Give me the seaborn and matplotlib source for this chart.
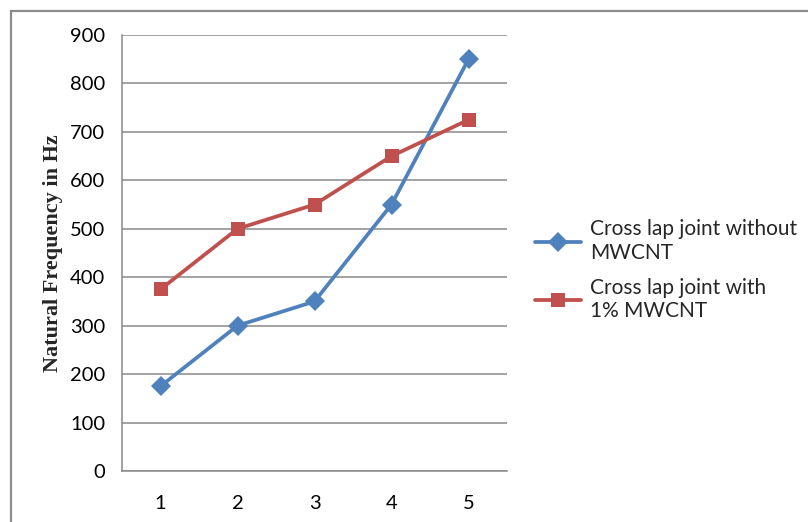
import matplotlib
matplotlib.use("Agg")
import matplotlib.pyplot as plt
import seaborn as sns
import pandas as pd
from matplotlib.patches import Rectangle

# Natural frequency of cross lap joints for each specimen
specimens = [1, 2, 3, 4, 5]
freq_without = [175, 300, 350, 550, 850]
freq_with = [375, 500, 550, 650, 725]
label_without = "Cross lap joint without\nMWCNT"
label_with = "Cross lap joint with\n1% MWCNT"
y_ticks = [0, 100, 200, 300, 400, 500, 600, 700, 800, 900]

df = pd.DataFrame({
    "Specimen": specimens * 2,
    "Frequency": freq_without + freq_with,
    "Series": [label_without] * len(specimens) + [label_with] * len(specimens),
})

sns.set_theme(style="white")
plt.rcParams["font.family"] = ["Lato", "DejaVu Sans"]

fig = plt.figure(figsize=(8.08, 5.22), dpi=100)
ax = fig.add_axes([122 / 808, 1 - 471 / 522, (507 - 122) / 808, (471 - 35) / 522])

palette = {label_without: "#4F81BD", label_with: "#C0504D"}
markers = {label_without: "D", label_with: "s"}
sns.lineplot(data=df, x="Specimen", y="Frequency", hue="Series", style="Series",
             palette=palette, markers=markers, dashes=False, markersize=10.5,
             linewidth=2.7, markeredgewidth=0, ax=ax, legend=True)

ax.set_xlim(0.5, 5.5)
ax.set_ylim(0, 900)
ax.set_yticks(y_ticks)
ax.set_xticks(specimens)
ax.yaxis.grid(True, color="#898989", linewidth=1.1)
ax.xaxis.grid(False)
for side in ["top", "right"]:
    ax.spines[side].set_visible(False)
for side in ["left", "bottom"]:
    ax.spines[side].set_color("#898989")
    ax.spines[side].set_linewidth(1.1)
ax.tick_params(axis="both", length=0, labelsize=14.5, colors="black")
ax.tick_params(axis="y", pad=12)
ax.tick_params(axis="x", pad=17)
ax.set_xlabel("")
ax.set_ylabel("Natural Frequency in Hz", fontsize=16, fontweight="bold",
              family="Liberation Serif", labelpad=5)

handles, labels = ax.get_legend_handles_labels()
ax.legend(handles, labels, loc="center left", bbox_to_anchor=(516 / 808, 1 - 270 / 522),
          bbox_transform=fig.transFigure, frameon=False, fontsize=15,
          handlelength=2.2, handletextpad=0.45, labelspacing=0.72)

# Chart area border
fig.patches.append(Rectangle((11 / 808, -0.05), 1.2, 1 - 11 / 522 + 0.05,
                             transform=fig.transFigure, fill=False,
                             edgecolor="#8c8c8c", linewidth=1.6))

fig.savefig("out.png", dpi=100)
